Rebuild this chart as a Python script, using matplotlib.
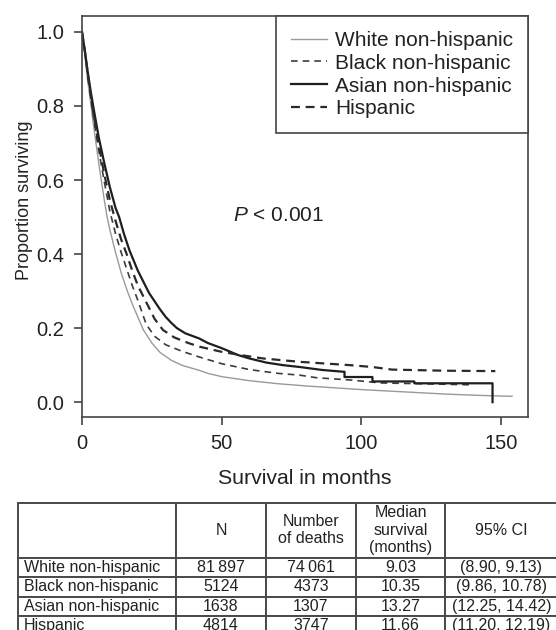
import numpy as np
import matplotlib
matplotlib.use('Agg')
import matplotlib.pyplot as plt

plt.rcParams['font.family'] = ['Liberation Sans', 'DejaVu Sans']
plt.rcParams['mathtext.fontset'] = 'custom'
plt.rcParams['mathtext.it'] = 'Liberation Sans:italic'
plt.rcParams['mathtext.rm'] = 'Liberation Sans'

# Kaplan-Meier curves (months, proportion surviving)
white_t = [0, 1, 2, 3, 4, 5, 6, 7, 8, 9, 10, 12, 14, 16, 18, 20, 22, 25, 28, 32, 36,
           42, 45, 50, 60, 70, 80, 90, 100, 110, 120, 130, 140, 148, 154]
white_s = [1.0, 0.94, 0.87, 0.815, 0.755, 0.70, 0.645, 0.595, 0.545, 0.50, 0.465,
           0.405, 0.35, 0.305, 0.265, 0.23, 0.195, 0.16, 0.134, 0.113, 0.099, 0.086,
           0.078, 0.069, 0.058, 0.050, 0.044, 0.039, 0.034, 0.030, 0.026, 0.022,
           0.019, 0.017, 0.016]

black_t = [0, 1, 2, 3, 4, 6, 8, 10, 12, 14, 16, 18, 20, 23, 26, 30, 36, 42, 50, 60,
           70, 78, 84, 96, 107, 120, 139]
black_s = [1.0, 0.95, 0.885, 0.83, 0.775, 0.68, 0.595, 0.515, 0.455, 0.405, 0.36,
           0.315, 0.275, 0.21, 0.178, 0.155, 0.137, 0.122, 0.104, 0.088, 0.078,
           0.073, 0.066, 0.06, 0.052, 0.05, 0.047]

asian_t = [0, 1, 2, 3, 4, 6, 8, 10, 12, 13.3, 15, 17, 20, 24, 28, 30, 32, 34, 37, 42,
           45, 50, 56, 60, 66, 72, 78, 86, 94, 94, 104, 104, 119, 119, 147, 147]
asian_s = [1.0, 0.95, 0.895, 0.845, 0.80, 0.715, 0.645, 0.58, 0.525, 0.50, 0.455,
           0.41, 0.355, 0.295, 0.25, 0.23, 0.214, 0.2, 0.186, 0.172, 0.16, 0.146,
           0.127, 0.118, 0.107, 0.1, 0.095, 0.087, 0.082, 0.068, 0.068, 0.056, 0.056,
           0.051, 0.051, 0.0]

hisp_t = [0, 1, 2, 3, 4, 6, 8, 10, 12, 14, 16, 18, 20, 23, 26, 29, 33, 38, 42, 50,
          57, 65, 78, 96, 104, 111, 130, 148]
hisp_s = [1.0, 0.95, 0.89, 0.835, 0.785, 0.695, 0.615, 0.545, 0.49, 0.44, 0.40,
          0.355, 0.315, 0.27, 0.225, 0.195, 0.175, 0.16, 0.15, 0.136, 0.127, 0.118,
          0.109, 0.10, 0.095, 0.088, 0.085, 0.084]

groups = ['White non-hispanic', 'Black non-hispanic', 'Asian non-hispanic', 'Hispanic']

# summary table
col_labels = ['', 'N', 'Number\nof deaths', 'Median\nsurvival\n(months)', '95% CI']
n_pat = ['81\u2009897', '5124', '1638', '4814']
n_deaths = ['74\u2009061', '4373', '1307', '3747']
median = ['9.03', '10.35', '13.27', '11.66']
ci = ['(8.90, 9.13)', '(9.86, 10.78)', '(12.25, 14.42)', '(11.20, 12.19)']

txt = '#222222'
edge = '#444444'

fig = plt.figure(figsize=(5.56, 6.3), dpi=100)
ax = fig.add_axes([82/556, 213/630, 446/556, 401/630])

ax.plot(white_t, white_s, color='#9a9a9a', lw=1.0, label=groups[0])
ax.plot(black_t, black_s, color='#3c3c3c', lw=1.2, dashes=(4, 3), label=groups[1])
ax.plot(asian_t, asian_s, color='#1e1e1e', lw=1.6, label=groups[2])
ax.plot(hisp_t, hisp_s, color='#2a2a2a', lw=1.6, dashes=(4, 2.6), label=groups[3])

ax.set_xlim(0, 159.7)
ax.set_ylim(-0.04, 1.043)
ax.set_xticks([0, 50, 100, 150])
ax.set_yticks([0, 0.2, 0.4, 0.6, 0.8, 1.0])
ax.set_yticklabels(['0.0', '0.2', '0.4', '0.6', '0.8', '1.0'])
ax.tick_params(axis='both', direction='out', length=6, width=1.2, color=edge,
               labelsize=14.5, labelcolor=txt)
ax.tick_params(axis='x', pad=6)
ax.tick_params(axis='y', pad=7)
for sp in ax.spines.values():
    sp.set_color(edge)
    sp.set_linewidth(1.2)

ax.set_xlabel('Survival in months', fontsize=15.3, color=txt, labelpad=12)
ax.set_ylabel('Proportion surviving', fontsize=13, color=txt)
ax.yaxis.set_label_coords(-0.11, 0.541)
ax.text(70.2, 0.505, r'$P$ < 0.001', fontsize=15, color=txt, ha='center', va='center')

leg = ax.legend(loc='upper right', borderaxespad=0, fancybox=False, fontsize=15,
                handlelength=1.7, handletextpad=0.4, labelspacing=0.18,
                borderpad=0.72, framealpha=1)
leg.get_frame().set_edgecolor(edge)
leg.get_frame().set_linewidth(1.2)
for t in leg.get_texts():
    t.set_color(txt)

# table below the plot
tax = fig.add_axes([18/556, -5.5/630, 540/556, 132.5/630])
tax.axis('off')
cell_text = [[g, a, b, c, d] for g, a, b, c, d in zip(groups, n_pat, n_deaths, median, ci)]
tbl = tax.table(cellText=cell_text, colLabels=col_labels, cellLoc='center',
                bbox=[0, 0, 1, 1])
tbl.auto_set_font_size(False)
tbl.set_fontsize(11.5)
widths = [158, 90, 90, 89, 113]
for (r, c), cell in tbl.get_celld().items():
    cell.set_width(widths[c])
    cell.set_height(54.5 if r == 0 else 19.5)
    cell.set_edgecolor('#4a4a4a')
    cell.set_linewidth(1.4)
    cell.get_text().set_color(txt)
    if c == 0 and r > 0:
        cell.get_text().set_ha('left')
        cell.PAD = 0.035

fig.savefig('out.png', dpi=100)
